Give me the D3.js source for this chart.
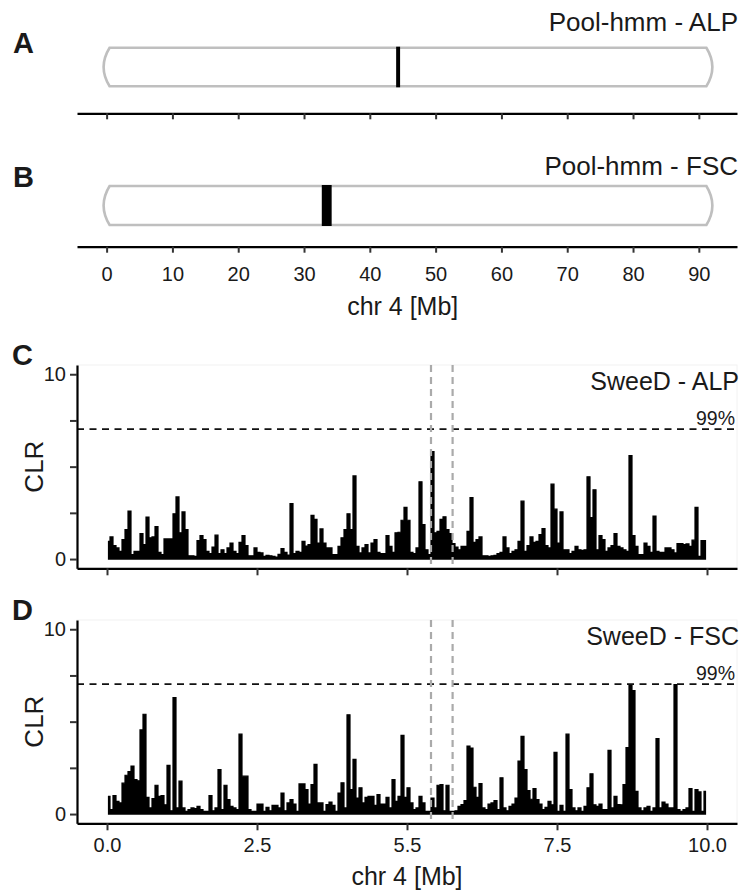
<!DOCTYPE html>
<html><head><meta charset="utf-8">
<script src="https://cdn.jsdelivr.net/npm/d3@7"></script>
<style>
html,body{margin:0;padding:0;background:#fff;}
text{font-family:"Liberation Sans",Arial,Helvetica,sans-serif;fill:#1a1a1a;}
</style></head>
<body>
<svg id="chart" width="748" height="895"></svg>
<script>
// ---------------- data ----------------
const chrTicks = [0,10,20,30,40,50,60,70,80,90];
const chrTickLabels = ["0","10","20","30","40","50","60","70","80","90"];
const chrLengthMb = 91.6;
const alpRegionMb = [44.0, 44.6];
const fscRegionMb = [32.7, 34.2];
const clrTicks = [0,2.5,5,7.5,10];
const clrTickLabels = ["0","","","","10"];
const posTicks = [0,2.5,5,7.5,10];
const posTickLabels = ["0.0","2.5","5.5","7.5","10.0"];
const threshold99 = 7.03;
const candidateRegion = [5.40, 5.76];
const binWidthMb = 0.05;
const sweedALP = [
0.96,1.2,0.73,0.6,0.42,1.05,1.6,2.6,0.24,0.42,0.42,1.38,0.78,2.27,1.15,1.2,1.75,0.36,0.24,1.09,
1.09,1.09,2.45,3.36,1.42,2.55,1.6,0.18,0.18,0.15,1.0,1.27,1.05,0.42,0.3,0.65,1.29,0.3,0.5,0.3,
0.6,0.87,0.42,0.3,0.9,1.27,0.73,0.18,0.18,0.6,0.36,0.33,0.15,0.2,0.18,0.15,0.11,0.25,0.56,0.36,
0.22,3.0,0.29,0.42,0.36,0.96,0.7,0.78,2.36,2.15,0.87,1.63,0.87,0.6,0.6,0.24,0.24,0.69,1.15,1.6,
2.45,1.6,4.5,0.69,0.33,0.6,0.78,0.33,0.87,1.05,0.36,0.3,0.29,1.27,0.69,0.36,1.42,1.45,2.1,2.8,
2.1,0.36,0.3,0.6,4.18,1.87,0.5,0.24,5.82,1.42,1.5,2.15,2.29,1.6,1.38,0.84,0.65,0.5,0.69,0.69,
1.5,3.33,0.9,1.05,1.2,0.18,0.18,0.15,0.18,0.2,0.29,0.36,1.2,0.6,0.29,0.42,0.5,0.96,3.13,0.42,
0.73,1.2,0.9,0.96,1.33,1.65,0.73,0.6,4.05,2.7,0.87,2.55,0.5,0.5,0.29,0.42,0.69,0.5,0.47,0.5,
4.45,2.25,3.75,0.5,1.27,1.05,0.42,0.6,0.73,1.38,0.69,0.6,0.5,0.42,5.6,1.27,0.69,0.24,0.24,0.87,
0.69,0.36,2.33,0.42,0.36,0.36,0.6,0.6,0.5,0.33,0.84,0.84,0.78,0.82,0.69,1.02,2.8,0.15,1.0,1.0];
const sweedFSC = [
0.96,0.24,1.0,0.69,0.6,1.67,2.1,2.3,2.6,1.87,1.8,4.55,5.4,0.9,0.33,0.83,1.56,0.96,1.0,0.5,
2.63,0.18,6.3,0.33,1.78,0.33,0.15,0.24,0.33,0.3,0.42,0.24,0.15,0.15,1.0,0.18,0.33,2.41,0.24,1.56,
0.78,0.42,0.33,0.24,4.32,2.05,2.05,0.24,0.15,0.15,0.54,0.54,0.15,0.36,0.18,0.47,0.47,0.33,1.14,0.18,
0.6,0.78,0.54,0.15,1.63,1.63,1.32,0.54,1.6,2.69,0.6,0.6,0.15,0.51,0.65,0.47,0.15,1.14,1.69,0.33,
5.37,1.32,2.96,0.87,1.42,0.6,0.9,0.96,0.96,0.47,1.05,0.54,0.54,0.9,0.33,1.87,0.69,0.96,4.26,0.9,
1.42,0.6,0.24,0.33,0.96,0.6,0.15,0.15,0.87,0.33,1.56,1.6,0.18,1.56,0.15,0.15,0.18,0.42,0.51,0.73,
3.68,3.57,1.45,0.9,1.65,0.33,0.24,0.54,0.6,0.73,0.24,1.96,0.33,0.18,0.42,0.54,0.87,2.87,4.2,2.41,
1.27,0.8,1.38,0.78,0.54,0.24,0.36,0.69,0.5,3.34,0.15,0.47,0.15,4.32,1.32,0.33,0.18,0.33,0.15,0.42,
1.42,2.18,0.5,0.42,0.54,0.24,0.24,3.45,0.33,0.96,0.51,0.5,1.6,3.6,6.95,6.68,1.23,0.33,0.18,0.33,
0.42,0.15,0.33,4.08,0.33,0.65,0.54,0.33,0.33,7.0,0.24,0.15,0.24,0.33,1.38,0.15,1.32,1.2,0.15,1.23];

// ---------------- drawing ----------------
const svg = d3.select("#chart");
const FONT = '"Liberation Sans",Arial,Helvetica,sans-serif';

function label(txt, x, y, size, opts={}) {
  return svg.append("text").attr("x", x).attr("y", y)
    .attr("font-size", size).attr("font-weight", opts.bold ? "bold" : "normal")
    .attr("text-anchor", opts.anchor || "start").text(txt);
}

// ---- Panels A & B: chromosome ideograms ----
const xChr = d3.scaleLinear().domain([-4.5, 95.8]).range([77, 737]);

function ideogram(top, bottom, axisY, region, title, titleY, letter, letterY, showLabels) {
  const x0 = xChr(0), x1 = xChr(chrLengthMb), mid = (top + bottom) / 2;
  const p = d3.path();
  p.moveTo(x0 + 3, top); p.lineTo(x1 - 3, top);
  p.quadraticCurveTo(x1 + 9, mid, x1 - 3, bottom);
  p.lineTo(x0 + 3, bottom);
  p.quadraticCurveTo(x0 - 9, mid, x0 + 3, top);
  p.closePath();
  svg.append("path").attr("d", p.toString()).attr("fill", "#fff")
    .attr("stroke", "#bfbfbf").attr("stroke-width", 2.6);
  svg.append("rect").attr("x", xChr(region[0])).attr("y", top - 1)
    .attr("width", Math.max(xChr(region[1]) - xChr(region[0]), 3.5))
    .attr("height", bottom - top + 2).attr("fill", "#000");

  const ax = d3.axisBottom(xChr).tickValues(chrTicks).tickSize(6).tickSizeOuter(0)
    .tickFormat((d, i) => showLabels ? chrTickLabels[i] : "");
  const g = svg.append("g").attr("transform", `translate(0,${axisY})`).call(ax);
  g.select(".domain").attr("stroke", "#000").attr("stroke-width", 2.2);
  g.selectAll(".tick line").attr("stroke", "#333").attr("stroke-width", 2);
  g.selectAll(".tick text").attr("font-family", FONT).attr("font-size", 20)
    .attr("fill", "#222").attr("dy", null).attr("y", 34.5);

  label(title, 738, titleY, 26, {anchor: "end"});
  label(letter, 13, letterY, 29, {bold: true});
}

ideogram(47.7, 86.3, 113.3, alpRegionMb, "Pool-hmm - ALP", 31, "A", 53);
ideogram(186, 225, 246.7, fscRegionMb, "Pool-hmm - FSC", 175, "B", 187, true);
label("chr 4 [Mb]", xChr(45), 315, 25, {anchor: "middle"});

// ---- Panels C & D: SweeD CLR profiles ----
const xPos = d3.scaleLinear().domain([-0.5, 10.5]).range([77, 737]);

function clrPanel(values, top, bottom, title, letter, showLabels) {
  const y = d3.scaleLinear().domain([-0.5, 10.5]).range([bottom, top]);

  // faint panel frame
  svg.append("rect").attr("x", xPos(-0.5)).attr("y", top)
    .attr("width", xPos(10.5) - xPos(-0.5)).attr("height", bottom - top)
    .attr("fill", "none").attr("stroke", "#f2f2f2").attr("stroke-width", 1);

  const pts = values.map((v, i) => ({x: (i + 0.5) * binWidthMb, v}));
  const area = d3.area().curve(d3.curveStep)
    .x(d => xPos(d.x)).y0(y(0)).y1(d => y(d.v));
  svg.append("path").datum(pts).attr("d", area)
    .attr("fill", "#000").attr("stroke", "#000").attr("stroke-width", 1.2)
    .attr("stroke-linejoin", "miter");

  // 99% threshold
  svg.append("line").attr("x1", xPos(-0.5)).attr("x2", xPos(10.5))
    .attr("y1", y(threshold99)).attr("y2", y(threshold99))
    .attr("stroke", "#111").attr("stroke-width", 1.7).attr("stroke-dasharray", "7,5.5");

  // candidate region lines
  candidateRegion.forEach(c => {
    svg.append("line").attr("x1", xPos(c)).attr("x2", xPos(c))
      .attr("y1", top).attr("y2", bottom)
      .attr("stroke", "#aaaaaa").attr("stroke-width", 2.2).attr("stroke-dasharray", "7,5");
  });

  // axes
  const ay = d3.axisLeft(y).tickValues(clrTicks).tickSize(7).tickSizeOuter(0)
    .tickFormat((d, i) => clrTickLabels[i]);
  const gy = svg.append("g").attr("transform", `translate(${xPos(-0.5)},0)`).call(ay);
  gy.select(".domain").attr("stroke", "#000").attr("stroke-width", 2.2);
  gy.selectAll(".tick line").attr("stroke", "#333").attr("stroke-width", 2);
  gy.selectAll(".tick text").attr("font-family", FONT).attr("font-size", 20)
    .attr("fill", "#222").attr("x", -11);

  const ax = d3.axisBottom(xPos).tickValues(posTicks).tickSize(7).tickSizeOuter(0)
    .tickFormat((d, i) => showLabels ? posTickLabels[i] : "");
  const gx = svg.append("g").attr("transform", `translate(0,${bottom})`).call(ax);
  gx.select(".domain").attr("stroke", "#000").attr("stroke-width", 2.2);
  gx.selectAll(".tick line").attr("stroke", "#333").attr("stroke-width", 2);
  gx.selectAll(".tick text").attr("font-family", FONT).attr("font-size", 20)
    .attr("fill", "#222").attr("dy", null).attr("y", 28.5);

  label(title, 739, top + 25, 25, {anchor: "end"});
  label("99%", 735, y(threshold99) - 4.5, 19.5, {anchor: "end"});
  svg.append("text").attr("transform", `translate(43,${(top + bottom) / 2}) rotate(-90)`)
    .attr("text-anchor", "middle").attr("font-size", 26).text("CLR");
  label(letter, 12, top, 29, {bold: true});
}

clrPanel(sweedALP, 365, 568.3, "SweeD - ALP", "C", false);
clrPanel(sweedFSC, 620, 823.3, "SweeD - FSC", "D", true);
label("chr 4 [Mb]", xPos(5), 885, 25, {anchor: "middle"});
</script>
</body></html>
